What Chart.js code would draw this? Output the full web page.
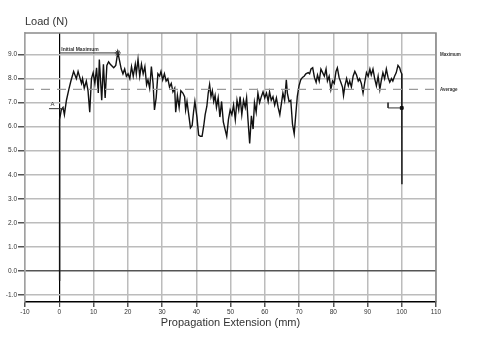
<!DOCTYPE html>
<html>
<head>
<meta charset="utf-8">
<script src="https://cdn.jsdelivr.net/npm/chart.js@4/dist/chart.umd.min.js"></script>
<style>
    html, body { margin: 0; padding: 0; background: #fff; }
    #wrap { width: 480px; height: 355px; }
</style>
</head>
<body>
<div id="wrap"><canvas id="loadChart" width="480" height="355"></canvas></div>
<script>
// propagation extension (mm) and load (N)
const loadX = [0, 0.05, 0.15, 0.6, 1.1, 1.5, 2.1, 2.8, 3.4, 4.2, 5.0, 5.5, 6.5, 6.8, 7.3, 7.9, 8.4, 8.9, 9.4, 9.9,
    10.4, 10.9, 11.4, 11.7, 12.4, 12.9, 13.4, 13.9, 14.4, 14.9, 15.9, 16.5, 17.1, 18.1, 18.6, 19.1, 19.6,
    20.1, 20.6, 21.1, 21.6, 22.2, 22.5, 23.0, 23.5, 24.0, 24.5, 25.0, 25.5, 25.9, 26.4, 26.9, 27.4, 27.8, 28.3, 28.8, 29.3, 29.7,
    30.2, 30.7, 31.2, 31.7, 32.2, 32.7, 33.2, 33.7, 34.0, 34.5, 35.0, 35.5, 36.1, 36.6, 36.9, 37.3, 37.9, 38.3, 38.8, 39.2, 39.6,
    40.2, 40.7, 41.2, 41.7, 42.2, 42.6, 43.1, 43.5, 43.9, 44.3, 44.7, 45.1, 45.5, 45.9, 46.4, 46.9, 47.4, 47.9, 48.4, 48.9, 49.4, 49.9,
    50.4, 50.9, 51.4, 51.9, 52.4, 52.8, 53.3, 53.8, 54.3, 54.7, 55.1, 55.6, 56.1, 56.6, 57.0, 57.5, 58.0, 58.5, 59.0, 59.5,
    60.0, 60.5, 61.0, 61.4, 61.9, 62.4, 62.9, 63.4, 63.9, 64.4, 64.9, 65.3, 65.8, 66.3, 66.6, 67.1, 67.6, 68.1, 68.6, 69.0, 69.5,
    70.0, 70.5, 71.0, 71.5, 72.0, 72.7, 73.1, 73.5, 74.0, 74.5, 75.0, 75.4, 75.9, 76.4, 76.9, 77.4, 77.9, 78.3, 78.8, 79.3, 79.8,
    80.3, 80.8, 81.2, 81.7, 82.2, 82.7, 83.0, 83.4, 83.9, 84.4, 84.8, 85.3, 85.8, 86.3, 86.8, 87.3, 87.7, 88.2, 88.7, 89.2, 89.7,
    90.2, 90.7, 91.1, 91.6, 92.1, 92.6, 93.1, 93.6, 94.0, 94.5, 95.0, 95.5, 96.0, 96.5, 97.0, 97.4, 97.9, 98.4, 98.9, 99.4, 99.7,
    100.0, 100.05];
const loadY = [-0.4, 3.4, 6.3, 6.7, 6.8, 6.5, 7.1, 7.55, 7.9, 8.3, 8.0, 8.3, 7.8, 8.0, 7.6, 7.9, 7.5, 6.6, 8.0, 8.25,
    7.8, 8.45, 7.4, 8.8, 7.1, 8.6, 7.2, 8.55, 8.7, 8.6, 8.45, 8.55, 9.1, 8.4, 8.2, 8.4, 8.1,
    8.2, 8.0, 8.5, 8.1, 8.6, 8.2, 8.8, 8.1, 8.6, 8.2, 8.5, 7.75, 7.95, 7.6, 8.5, 7.8, 6.7, 7.2, 8.2, 8.1, 8.3,
    7.95, 8.2, 7.9, 8.0, 7.65, 7.8, 7.45, 7.6, 6.6, 7.3, 6.8, 7.5, 7.4, 7.25, 6.7, 7.05, 6.4, 5.95, 6.05, 6.6, 7.05,
    6.4, 5.65, 5.6, 5.6, 6.05, 6.5, 6.85, 7.4, 7.75, 7.25, 7.5, 7.05, 7.3, 6.8, 7.2, 6.4, 7.05, 6.2, 5.9, 5.6, 6.3, 6.7,
    6.5, 6.9, 6.3, 7.1, 6.7, 7.25, 6.5, 7.1, 6.8, 7.2, 6.3, 5.3, 6.45, 5.9, 7.0, 6.6, 7.4, 7.0, 7.25, 7.45,
    7.2, 7.4, 7.05, 7.45, 7.1, 7.25, 6.9, 7.2, 6.8, 6.5, 7.0, 7.4, 7.1, 7.95, 7.4, 7.05, 7.1, 6.1, 5.7, 6.4, 7.25,
    7.7, 7.95, 8.05, 8.1, 8.2, 8.25, 8.2, 8.4, 8.45, 8.05, 7.85, 8.15, 7.9, 8.4, 8.25, 8.1, 8.4, 7.9, 8.1, 7.55, 7.9,
    7.8, 8.3, 8.45, 8.05, 7.85, 7.65, 7.3, 7.7, 8.0, 7.7, 7.9, 7.65, 8.1, 8.3, 8.15, 7.9, 8.0, 7.8, 7.4, 7.85, 8.25,
    8.1, 8.4, 8.15, 8.4, 8.0, 7.7, 8.1, 7.55, 7.9, 8.25, 8.0, 8.4, 8.05, 7.85, 8.0, 7.9, 8.1, 8.25, 8.55, 8.45, 8.3,
    8.2, 3.6];

const avgLoad = 7.55;
const initialMaxX = 17.1;
const initialMaxLoad = 9.07;
const startMarkX = [-3, 1.5];
const startMarkY = [6.75, 6.75];
const endMarkX = [96, 96, 100];
const endMarkY = [7.0, 6.78, 6.78];

const xTicks = [-10, 0, 10, 20, 30, 40, 50, 60, 70, 80, 90, 100, 110];
const yTicks = [-1, 0, 1, 2, 3, 4, 5, 6, 7, 8, 9];

const sans = '"Liberation Sans", Arial, sans-serif';
const gridGray = '#bcbcbc';

function pts(xs, ys) {
    return xs.map((x, i) => ({ x: x, y: ys[i] }));
}

const overlay = {
    id: 'overlay',
    afterDraw(chart) {
        const { ctx, chartArea: a, scales: { x, y } } = chart;
        ctx.save();

        // top and right frame
        ctx.strokeStyle = '#8a8a8a';
        ctx.lineWidth = 1.5;
        ctx.beginPath();
        ctx.moveTo(a.left, a.top);
        ctx.lineTo(a.right, a.top);
        ctx.lineTo(a.right, a.bottom);
        ctx.stroke();

        ctx.fillStyle = '#333';
        ctx.font = '11px ' + sans;
        ctx.textAlign = 'left';
        ctx.textBaseline = 'alphabetic';
        ctx.fillText('Load (N)', a.left, 25);

        ctx.textAlign = 'center';
        ctx.fillText('Propagation Extension (mm)', (a.left + a.right) / 2, 326);

        ctx.font = 'bold 5px ' + sans;
        ctx.textAlign = 'left';
        ctx.textBaseline = 'bottom';
        ctx.fillText('Initial Maximum', x.getPixelForValue(0) + 2, y.getPixelForValue(initialMaxLoad) - 1);

        ctx.textBaseline = 'middle';
        ctx.font = 'bold 4.5px ' + sans;
        ctx.fillText('Maximum', a.right + 4, y.getPixelForValue(9.0));
        ctx.fillText('Average', a.right + 4, y.getPixelForValue(avgLoad));

        ctx.font = '6px ' + sans;
        ctx.textAlign = 'center';
        ctx.textBaseline = 'bottom';
        ctx.fillText('A', x.getPixelForValue(-2), y.getPixelForValue(startMarkY[0]) - 1);

        ctx.restore();
    }
};

new Chart(document.getElementById('loadChart'), {
    type: 'line',
    data: {
        datasets: [
            {
                label: 'Average',
                data: pts([-10, 110], [avgLoad, avgLoad]),
                borderColor: '#9a9a9a',
                borderWidth: 1.2,
                borderDash: [9, 7],
                pointRadius: 0
            },
            {
                label: 'Initial Maximum',
                data: pts([0, initialMaxX], [initialMaxLoad, initialMaxLoad]),
                borderColor: '#333',
                borderWidth: 1,
                pointRadius: [0, 3],
                pointStyle: 'star',
                pointBorderColor: '#333',
                pointBorderWidth: 1
            },
            {
                label: 'Start',
                data: pts(startMarkX, startMarkY),
                borderColor: '#333',
                borderWidth: 1,
                pointRadius: 0
            },
            {
                label: 'End',
                data: pts(endMarkX, endMarkY),
                borderColor: '#333',
                borderWidth: 1,
                pointRadius: [0, 0, 2],
                pointStyle: 'rect',
                pointBackgroundColor: '#111',
                pointBorderColor: '#111'
            },
            {
                label: 'Load',
                data: pts(loadX, loadY),
                borderColor: '#111',
                borderWidth: 1.4,
                pointRadius: 0,
                tension: 0
            }
        ]
    },
    options: {
        responsive: false,
        animation: false,
        layout: { padding: { left: 0, right: 44, top: 33, bottom: 0 } },
        plugins: {
            legend: { display: false },
            tooltip: { enabled: false }
        },
        scales: {
            x: {
                type: 'linear',
                min: -10,
                max: 110,
                afterBuildTicks: scale => { scale.ticks = xTicks.map(v => ({ value: v })); },
                afterFit: scale => { scale.height = 53; },
                ticks: {
                    color: '#333',
                    font: { family: sans, size: 6.5 },
                    padding: 1,
                    maxRotation: 0,
                    callback: v => String(v)
                },
                grid: {
                    color: c => (c.tick && c.tick.value === 0) ? '#000' : gridGray,
                    lineWidth: c => (c.tick && c.tick.value === 0) ? 1.2 : 1.5,
                    tickColor: '#555',
                    tickLength: 5
                },
                border: { display: true, color: '#000', width: 1.5 }
            },
            y: {
                type: 'linear',
                min: -1.3,
                max: 9.9,
                afterBuildTicks: scale => { scale.ticks = yTicks.map(v => ({ value: v })); },
                afterFit: scale => { scale.width = 25; },
                ticks: {
                    color: '#333',
                    font: { family: sans, size: 6.5 },
                    padding: 1,
                    callback: v => Number(v).toFixed(1)
                },
                grid: {
                    color: c => (c.tick && c.tick.value === 0) ? '#555' : gridGray,
                    lineWidth: 1.5,
                    tickColor: '#555',
                    tickLength: 7
                },
                border: { display: true, color: '#a0a0a0', width: 1.5 }
            }
        }
    },
    plugins: [overlay]
});
</script>
</body>
</html>
